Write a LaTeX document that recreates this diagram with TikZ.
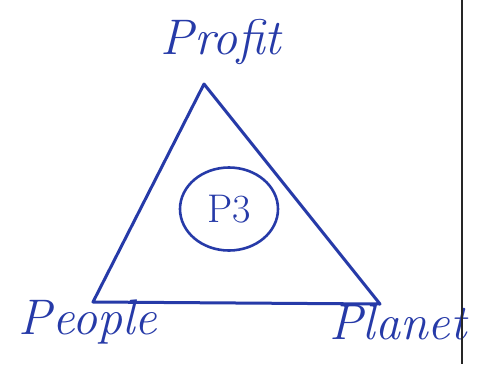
\documentclass[tikz,border=0pt]{standalone}
\usepackage{fontspec}
\usepackage{tikz}
\usepackage{xcolor}
\usetikzlibrary{shapes.geometric}

\definecolor{inkblue}{RGB}{38,58,168}

\begin{document}
\begin{tikzpicture}[x=1pt, y=-1pt,
    edge/.style={draw=inkblue, line width=3pt, line join=round},
    label/.style={text=inkblue, font=\fontsize{50}{54}\selectfont\itshape, inner sep=0pt}]

    % Page frame
    \useasboundingbox (0,0) rectangle (481,364);
    \fill[white] (0,0) rectangle (481,364);

    % ==========================================
    % TRIANGLE: the three Ps
    % ==========================================

    % Corners
    \coordinate (top) at (204,84);
    \coordinate (left) at (93,302);
    \coordinate (right) at (380,304);

    % Sides
    \draw[edge] (top) -- (right) -- (left) -- cycle;

    % Corner labels
    \node[label] (profit) at (221,42) {Profit};
    \node[label] (people) at (88,322) {People};
    \node[label] (planet) at (398,322) {Planet};

    % Centre circle
    \node[ellipse, draw=inkblue, line width=2.6pt, minimum width=98pt, minimum height=83pt,
          text=inkblue, font=\fontsize{40}{44}\selectfont, inner sep=0pt] (pthree) at (229,209) {P3};

    % Cell border on the right
    \coordinate (rtop) at (462,0);
    \coordinate (rbot) at (462,364);
    \draw[line width=1.8pt, black!85] (rtop) -- (rbot);

\end{tikzpicture}
\end{document}
